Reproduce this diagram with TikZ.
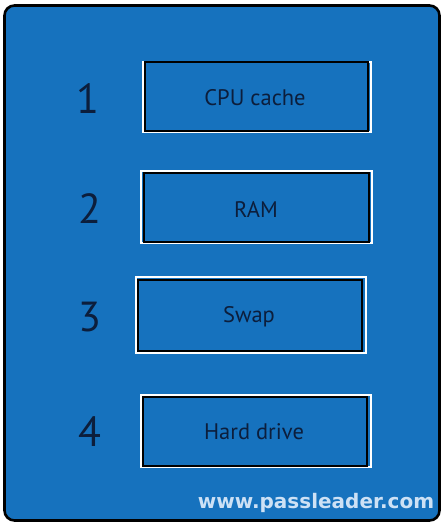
\documentclass[tikz,border=0pt]{standalone}
\usepackage{fontspec}
\setmainfont{PT Sans}
\newfontfamily\wmfont{DejaVu Sans}
\definecolor{panelblue}{RGB}{22,114,190}
\definecolor{inkblue}{RGB}{12,30,60}
\definecolor{wmcol}{RGB}{205,225,245}
\begin{document}
\begin{tikzpicture}[x=1pt,y=-1pt,
  whiteframe/.style={draw=white,line width=2pt},
  blackframe/.style={draw=black,line width=1.8pt,fill=panelblue},
  lbl/.style={text=inkblue,font=\fontsize{22.5}{26}\selectfont},
  num/.style={text=inkblue,font=\fontsize{42}{46}\selectfont}]
\useasboundingbox (0,0) rectangle (444,524);
\fill[white] (0,0) rectangle (444,524);
\draw[fill=panelblue,draw=black,line width=2.6pt,rounded corners=10pt] (4.5,5.5) rectangle (439.5,520.5);
% box 1
\draw[whiteframe] (143,62) rectangle (371,132);
\draw[blackframe] (145,62) rectangle (368,131);
\node[lbl] (b1) at (255,98) {CPU cache};
% box 2
\draw[whiteframe] (141,171) rectangle (372,243);
\draw[blackframe] (144,173) rectangle (369,242);
\node[lbl] (b2) at (256,209) {RAM};
% box 3
\draw[whiteframe] (136,277) rectangle (366,353);
\draw[blackframe] (138,280) rectangle (362,351);
\node[lbl] (b3) at (249,317) {Swap};
% box 4
\draw[whiteframe] (141,395) rectangle (371,467);
\draw[blackframe] (143,397) rectangle (367,466);
\node[lbl] (b4) at (254,432) {Hard drive};
% numbers
\node[num] (n1) at (88,99) {1};
\node[num] (n2) at (90,209) {2};
\node[num] (n3) at (90,317) {3};
\node[num] (n4) at (90,432) {4};
% watermark
\node[text=wmcol,font=\wmfont\bfseries\fontsize{20}{22}\selectfont] (wm) at (316,503) {www.passleader.com};
\end{tikzpicture}
\end{document}
